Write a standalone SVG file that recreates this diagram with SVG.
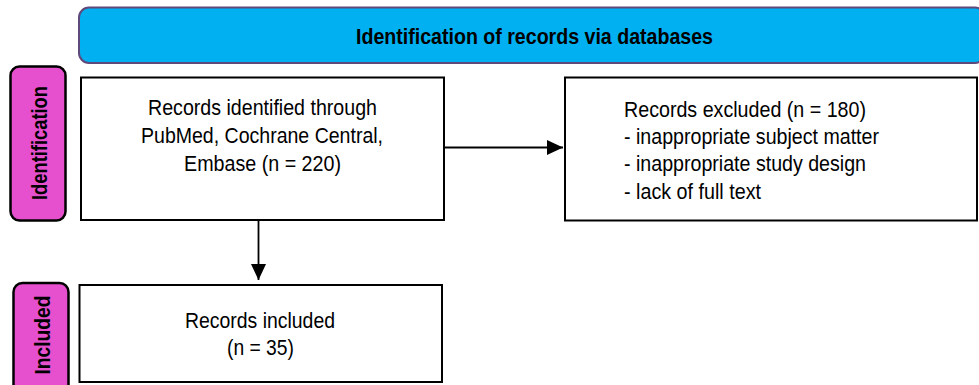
<svg xmlns="http://www.w3.org/2000/svg" width="979" height="385" viewBox="0 0 979 385">
<defs>
<style>
.t{font-family:"Liberation Sans Narrow","Liberation Sans",Arial,sans-serif;font-size:22px;fill:#000}
.b{font-weight:bold}
.box{fill:#fff;stroke:#000;stroke-width:2}
.tab{fill:#E650CE;stroke:#000;stroke-width:2.5}
.con{stroke:#000;stroke-width:1.8;fill:none}
</style>
<marker id="ah" markerUnits="userSpaceOnUse" markerWidth="16" markerHeight="16" viewBox="0 0 16 16" refX="16" refY="8" orient="auto">
<path d="M0,0.5 L16,8 L0,15.5 Z" fill="#000"/>
</marker>
</defs>
<rect width="979" height="385" fill="#fff"/>
<g id="banner">
<rect x="79" y="7.5" width="906" height="55.5" rx="10" fill="#00B0F0" stroke="#5F497A" stroke-width="2"/>
<text class="t b" x="356" y="44" font-size="22.5" textLength="357" lengthAdjust="spacingAndGlyphs">Identification of records via databases</text>
</g>
<g id="tab-identification">
<rect class="tab" x="10.5" y="66.5" width="55" height="154" rx="9"/>
<text class="t b" transform="translate(46.5,143) rotate(-90)" text-anchor="middle" font-size="20" textLength="114" lengthAdjust="spacingAndGlyphs">Identification</text>
</g>
<g id="tab-included">
<rect class="tab" x="13.5" y="283" width="55" height="110" rx="9"/>
<text class="t b" transform="translate(49.5,335) rotate(-90)" text-anchor="middle" font-size="20" textLength="79" lengthAdjust="spacingAndGlyphs">Included</text>
</g>
<g id="box-identified">
<rect class="box" x="81" y="77.5" width="363" height="142.5"/>
<text class="t" x="148" y="115" textLength="229" lengthAdjust="spacingAndGlyphs">Records identified through</text>
<text class="t" x="141" y="143" textLength="242" lengthAdjust="spacingAndGlyphs">PubMed, Cochrane Central,</text>
<text class="t" x="184" y="171" textLength="157" lengthAdjust="spacingAndGlyphs">Embase (n = 220)</text>
</g>
<g id="box-excluded">
<rect class="box" x="565" y="77.5" width="412" height="143"/>
<text class="t" x="624" y="116.5" textLength="242" lengthAdjust="spacingAndGlyphs">Records excluded (n = 180)</text>
<text class="t" x="624" y="143.5" textLength="255" lengthAdjust="spacingAndGlyphs">- inappropriate subject matter</text>
<text class="t" x="624" y="171" textLength="242" lengthAdjust="spacingAndGlyphs">- inappropriate study design</text>
<text class="t" x="624" y="198.5" textLength="137" lengthAdjust="spacingAndGlyphs">- lack of full text</text>
</g>
<g id="box-included">
<rect class="box" x="79.5" y="285" width="362.5" height="97"/>
<text class="t" x="185" y="328" textLength="150" lengthAdjust="spacingAndGlyphs">Records included</text>
<text class="t" x="227" y="355" textLength="67" lengthAdjust="spacingAndGlyphs">(n = 35)</text>
</g>
<g id="connectors">
<line class="con" x1="444" y1="147.5" x2="563" y2="147.5" marker-end="url(#ah)"/>
<line class="con" x1="258.5" y1="220" x2="258.5" y2="280" marker-end="url(#ah)"/>
</g>
</svg>
